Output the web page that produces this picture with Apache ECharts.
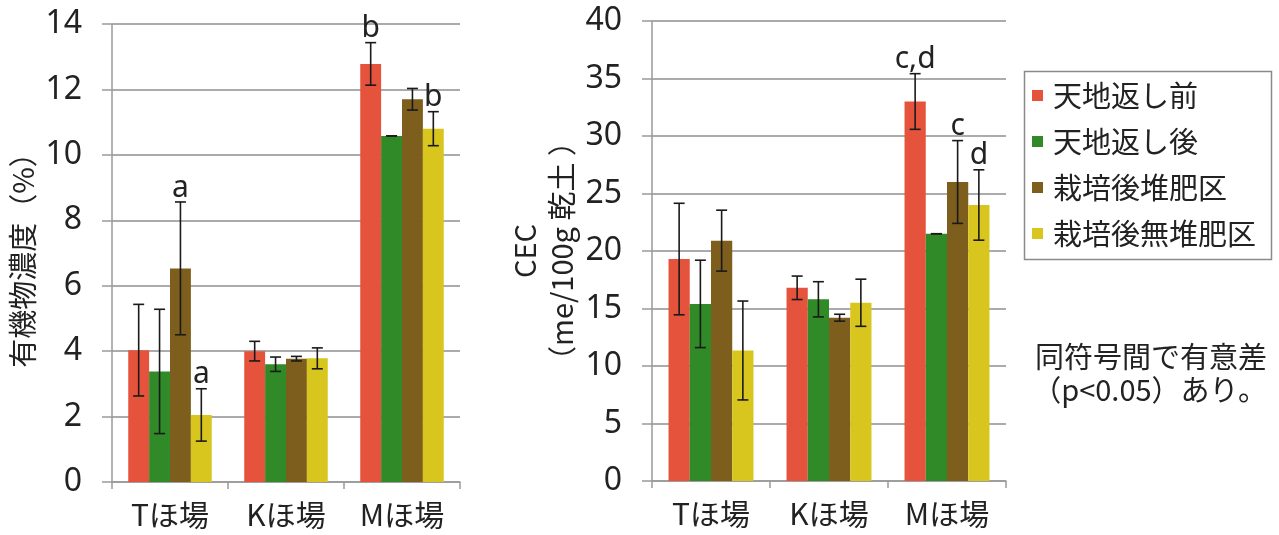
<!DOCTYPE html>
<html>
<head>
<meta charset="utf-8">
<script src="https://cdn.jsdelivr.net/npm/echarts@6/dist/echarts.min.js"></script>
<style>
html,body{margin:0;padding:0;background:#fff;}
#c{width:1279px;height:535px;}
</style>
</head>
<body>
<div id="c"></div>
<script>
// ---- data ----
const categories = ['Tほ場', 'Kほ場', 'Mほ場'];
const seriesNames = ['天地返し前', '天地返し後', '栽培後堆肥区', '栽培後無堆肥区'];
const colors = ['#E6533D', '#2F8A27', '#7D5E1C', '#D8C51E'];

// 有機物濃度 (%)
const omBefore = [4.03, 4.00, 12.78];
const omAfter = [3.38, 3.60, 10.58];
const omCompost = [6.53, 3.77, 11.70];
const omNoCompost = [2.05, 3.78, 10.80];
const omBeforeErr = [1.40, 0.30, 0.65];
const omAfterErr = [1.90, 0.22, 0.00];
const omCompostErr = [2.03, 0.07, 0.33];
const omNoCompostErr = [0.80, 0.32, 0.52];
const omLetters = [[0, 2, 'a'], [0, 3, 'a'], [2, 0, 'b'], [2, 3, 'b']];

// CEC (me/100g 乾土)
const cecBefore = [19.3, 16.8, 33.0];
const cecAfter = [15.4, 15.8, 21.5];
const cecCompost = [20.9, 14.2, 26.0];
const cecNoCompost = [11.35, 15.5, 24.0];
const cecBeforeErr = [4.85, 1.02, 2.42];
const cecAfterErr = [3.80, 1.53, 0.00];
const cecCompostErr = [2.65, 0.30, 3.60];
const cecNoCompostErr = [4.30, 2.05, 3.06];
const cecLetters = [[2, 0, 'c,d'], [2, 2, 'c'], [2, 3, 'd']];

const omTicks = {min: 0, max: 14, interval: 2};
const cecTicks = {min: 0, max: 40, interval: 5};
const noteLines = ['同符号間で有意差', '（p<0.05）あり。'];

// ---- build ----
const FONT = '"Noto Sans CJK JP", "Noto Sans", sans-serif';
const NUMFONT = '"Noto Sans", "Noto Sans CJK JP", sans-serif';
const GAP = 0.28;
const omMeans = [omBefore, omAfter, omCompost, omNoCompost];
const omErrs = [omBeforeErr, omAfterErr, omCompostErr, omNoCompostErr];
const cecMeans = [cecBefore, cecAfter, cecCompost, cecNoCompost];
const cecErrs = [cecBeforeErr, cecAfterErr, cecCompostErr, cecNoCompostErr];

function barX(api, cat, s) {
  const base = api.coord([cat, 0]);
  const band = api.size([1, 0])[0];
  const bw = band * (1 - GAP) / 4;
  return base[0] - 2 * bw + (s + 0.5) * bw;
}

function errData(means, errs) {
  const d = [];
  for (let s = 0; s < 4; s++) {
    for (let c = 0; c < categories.length; c++) {
      d.push([c, s, means[s][c] - errs[s][c], means[s][c] + errs[s][c]]);
    }
  }
  return d;
}
function letterData(letters, means, errs) {
  return letters.map(l => [l[0], l[1], means[l[1]][l[0]] + errs[l[1]][l[0]]]);
}

function errSeries(axis, means, errs) {
  return {
    type: 'custom', xAxisIndex: axis, yAxisIndex: axis, z: 10,
    data: errData(means, errs),
    renderItem: function (params, api) {
      const c = api.value(0), s = api.value(1);
      const x = barX(api, c, s);
      const y1 = api.coord([c, api.value(2)])[1];
      const y2 = api.coord([c, api.value(3)])[1];
      const st = {stroke: '#1a1a1a', lineWidth: 1.6};
      const hw = 5.5;
      return {type: 'group', children: [
        {type: 'line', shape: {x1: x, y1: y1, x2: x, y2: y2}, style: st},
        {type: 'line', shape: {x1: x - hw, y1: y1, x2: x + hw, y2: y1}, style: st},
        {type: 'line', shape: {x1: x - hw, y1: y2, x2: x + hw, y2: y2}, style: st}
      ]};
    }
  };
}
function letterSeries(axis, letters, means, errs) {
  return {
    type: 'custom', xAxisIndex: axis, yAxisIndex: axis, z: 11,
    data: letterData(letters, means, errs),
    renderItem: function (params, api) {
      const c = api.value(0), s = api.value(1);
      const x = barX(api, c, s);
      const y = api.coord([c, api.value(2)])[1];
      return {type: 'text', style: {
        text: letters[params.dataIndex][2], x: x, y: y + 1,
        textAlign: 'center', textVerticalAlign: 'bottom',
        font: '30px ' + NUMFONT, fill: '#222'
      }};
    }
  };
}

const series = [];
seriesNames.forEach((n, s) => {
  series.push({name: n, type: 'bar', xAxisIndex: 0, yAxisIndex: 0, data: omMeans[s],
    itemStyle: {color: colors[s]}, barGap: '0%', barCategoryGap: (GAP * 100) + '%'});
});
seriesNames.forEach((n, s) => {
  series.push({name: n, type: 'bar', xAxisIndex: 1, yAxisIndex: 1, data: cecMeans[s],
    itemStyle: {color: colors[s]}, barGap: '0%', barCategoryGap: (GAP * 100) + '%'});
});
series.push(errSeries(0, omMeans, omErrs));
series.push(errSeries(1, cecMeans, cecErrs));
series.push(letterSeries(0, omLetters, omMeans, omErrs));
series.push(letterSeries(1, cecLetters, cecMeans, cecErrs));

const gridLine = {show: true, lineStyle: {color: '#8f8f8f', width: 1.5}};
const axLine = {show: true, lineStyle: {color: '#9a9a9a', width: 1.5}};
function xAx(i) {
  return {type: 'category', gridIndex: i, data: categories,
    axisLine: axLine, axisTick: {show: true, length: 7, lineStyle: {color: '#9a9a9a', width: 1.5}},
    axisLabel: {fontSize: 30, fontFamily: FONT, color: '#222', margin: 18}};
}
function yAx(i, t, name, gap) {
  return {type: 'value', gridIndex: i, min: t.min, max: t.max, interval: t.interval,
    name: name, nameLocation: 'middle', nameGap: gap, nameRotate: 90,
    nameTextStyle: {fontSize: 29, fontFamily: FONT, color: '#222', lineHeight: 37},
    axisLine: axLine, axisTick: {show: true, length: 10, inside: false, lineStyle: {color: '#9a9a9a', width: 1.5}},
    splitLine: gridLine,
    axisLabel: {fontSize: 32, fontFamily: NUMFONT, color: '#222', margin: 30}};
}

const chart = echarts.init(document.getElementById('c'), null, {renderer: 'canvas'});
chart.setOption({
  animation: false,
  backgroundColor: '#fff',
  grid: [
    {left: 112, right: 819, top: 24, bottom: 53, outerBoundsMode: 'none'},
    {left: 652, right: 273, top: 21, bottom: 54, outerBoundsMode: 'none'}
  ],
  xAxis: [xAx(0), xAx(1)],
  yAxis: [yAx(0, omTicks, '有機物濃度（%）', 68), yAx(1, cecTicks, 'CEC\n（me/100g 乾土 ）', 72)],
  legend: {
    data: seriesNames, orient: 'vertical', left: 1024, top: 69,
    itemWidth: 11, itemHeight: 11, icon: 'rect', itemGap: 17,
    padding: [12, 8, 11, 8],
    textStyle: {fontSize: 29, fontFamily: FONT, color: '#222', padding: [0, 0, 0, 5]}
  },
  graphic: [
    {type: 'rect', left: 1022, top: 69, shape: {width: 247, height: 188},
      style: {fill: 'none', stroke: '#8a8a8a', lineWidth: 1.5}, silent: true}
  ].concat(noteLines.map((t, i) => ({
    type: 'text', right: 12, top: 342 + i * 33,
    style: {text: t, font: '29px ' + FONT, fill: '#222', textAlign: 'right'}
  }))),
  series: series
});
</script>
</body>
</html>
